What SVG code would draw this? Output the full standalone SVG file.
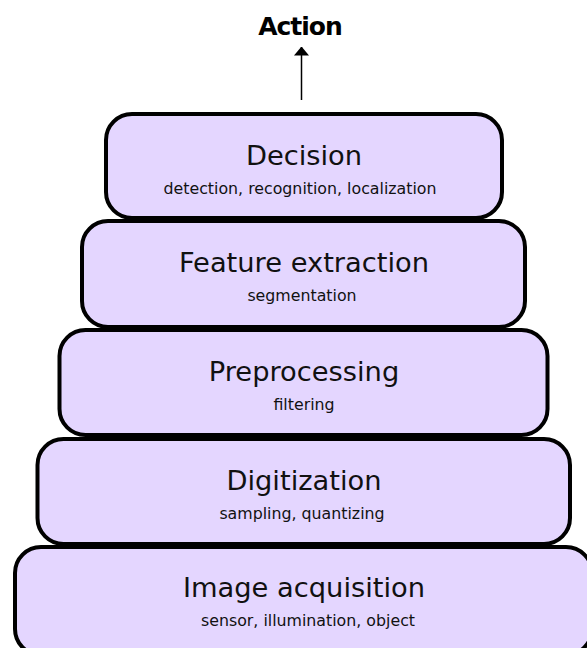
<svg xmlns="http://www.w3.org/2000/svg" width="587" height="648" viewBox="0 0 587 648">
  <defs>
    <marker id="arrowhead" viewBox="0 0 9 15" refX="8.5" refY="7.5" markerWidth="9" markerHeight="15" markerUnits="userSpaceOnUse" orient="auto">
      <path d="M0,0 L9,7.5 L0,15 Z" fill="#000"/>
    </marker>
    <style>
      .stage { fill: #e4d6ff; stroke: #000; stroke-width: 4; }
      .title { font-family: "DejaVu Sans", Verdana, sans-serif; font-size: 27.3px; fill: #111; text-anchor: middle; }
      .sub { font-family: "DejaVu Sans", Verdana, sans-serif; font-size: 15.8px; fill: #111; text-anchor: middle; }
      .action { font-family: "DejaVu Sans", Verdana, sans-serif; font-size: 25px; font-weight: bold; letter-spacing: -1px; fill: #000; text-anchor: middle; }
      .link { stroke: #000; stroke-width: 1.5; fill: none; }
    </style>
  </defs>
  <rect width="587" height="648" fill="#fff"/>

  <g id="connectors">
    <line class="link" x1="301.5" y1="100" x2="301.5" y2="47" marker-end="url(#arrowhead)"/>
  </g>

  <g id="action">
    <text class="action" x="300" y="35">Action</text>
  </g>

  <g id="decision">
    <rect class="stage" x="106" y="114" width="396" height="104" rx="26"/>
    <text class="title" x="304" y="165">Decision</text>
    <text class="sub" x="300" y="194">detection, recognition, localization</text>
  </g>

  <g id="feature-extraction">
    <rect class="stage" x="82" y="221" width="443" height="106" rx="26"/>
    <text class="title" x="304" y="272">Feature extraction</text>
    <text class="sub" x="302" y="301">segmentation</text>
  </g>

  <g id="preprocessing">
    <rect class="stage" x="59.5" y="330" width="488" height="105" rx="26"/>
    <text class="title" x="304" y="381">Preprocessing</text>
    <text class="sub" x="304" y="410">filtering</text>
  </g>

  <g id="digitization">
    <rect class="stage" x="37.5" y="439" width="532.5" height="105" rx="26"/>
    <text class="title" x="304" y="490">Digitization</text>
    <text class="sub" x="302" y="519">sampling, quantizing</text>
  </g>

  <g id="image-acquisition">
    <rect class="stage" x="15" y="547" width="577" height="108" rx="26"/>
    <text class="title" x="304" y="597">Image acquisition</text>
    <text class="sub" x="308" y="626">sensor, illumination, object</text>
  </g>
</svg>
